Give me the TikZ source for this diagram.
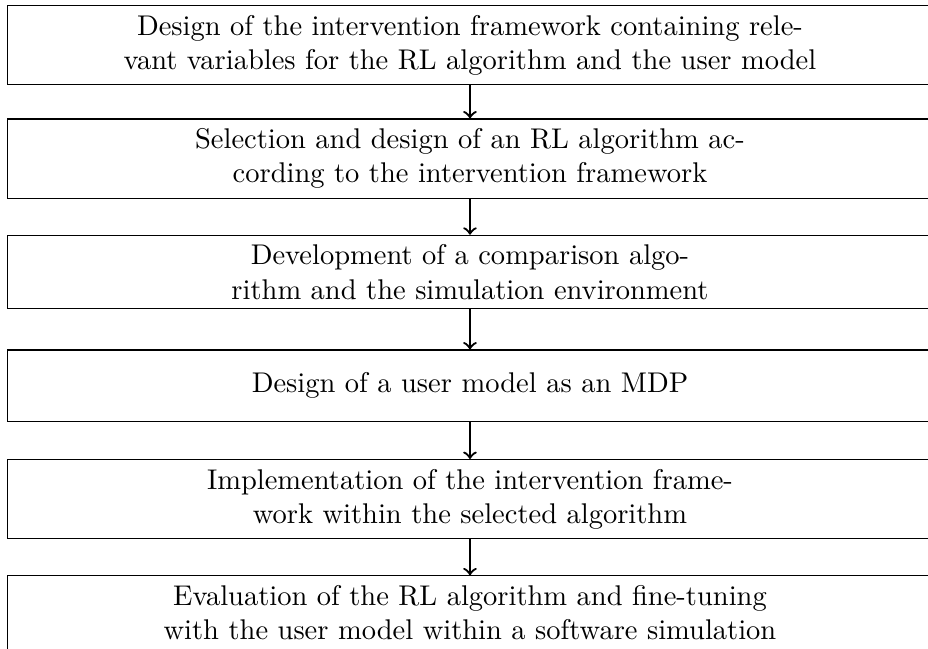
\documentclass[tikz,border=0pt]{standalone}
\usepackage{tikz}
\usetikzlibrary{positioning}

\begin{document}
\begin{tikzpicture}[node distance=1.4cm, on grid,
        stage/.style={draw, text width=318pt, align=center, minimum height=25pt},
        flow/.style={->, thick}]
        \useasboundingbox (-164.9pt,15.8pt) rectangle (160.7pt,-211.6pt);
        \node[stage] (design) {Design of the intervention framework containing rele-\\vant variables for the RL algorithm and the user model};
        \node[stage, below=of design] (select) {Selection and design of an RL algorithm ac-\\cording to the intervention framework};
        \node[stage, below=of select] (develop) {Development of a comparison algo-\\rithm and the simulation environment};
        \node[stage, below=of develop] (usermodel) {Design of a user model as an MDP};
        \node[stage, below=of usermodel] (implement) {Implementation of the intervention frame-\\work within the selected algorithm};
        \node[stage, below=of implement] (evaluate) {Evaluation of the RL algorithm and fine-tuning\\with the user model within a software simulation};
        % arrows between the stages
        \foreach \a/\b in {design/select, select/develop, develop/usermodel, usermodel/implement, implement/evaluate}{
            \draw[flow] (\a) -- (\b);
          }
      \end{tikzpicture}
\end{document}
